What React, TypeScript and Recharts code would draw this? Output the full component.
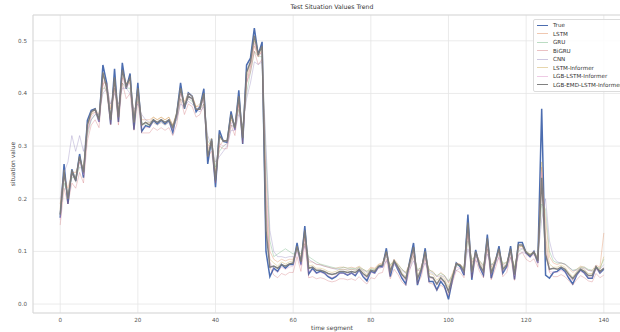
import React from "react";
import {
  LineChart,
  Line,
  XAxis,
  YAxis,
  CartesianGrid,
  Legend,
  Label,
  ReferenceArea,
} from "recharts";

// time segments 0..140
const segments = [
  0, 1, 2, 3, 4, 5, 6, 7, 8, 9, 10, 11, 12, 13, 14, 15, 16, 17, 18, 19,
  20, 21, 22, 23, 24, 25, 26, 27, 28, 29, 30, 31, 32, 33, 34, 35, 36, 37, 38, 39,
  40, 41, 42, 43, 44, 45, 46, 47, 48, 49, 50, 51, 52, 53, 54, 55, 56, 57, 58, 59,
  60, 61, 62, 63, 64, 65, 66, 67, 68, 69, 70, 71, 72, 73, 74, 75, 76, 77, 78, 79,
  80, 81, 82, 83, 84, 85, 86, 87, 88, 89, 90, 91, 92, 93, 94, 95, 96, 97, 98, 99,
  100, 101, 102, 103, 104, 105, 106, 107, 108, 109, 110, 111, 112, 113, 114, 115, 116, 117, 118, 119,
  120, 121, 122, 123, 124, 125, 126, 127, 128, 129, 130, 131, 132, 133, 134, 135, 136, 137, 138, 139,
  140,
];

const trueValues = [
  0.164, 0.266, 0.19, 0.256, 0.234, 0.285, 0.24, 0.349, 0.368, 0.371,
  0.346, 0.454, 0.419, 0.341, 0.447, 0.346, 0.458, 0.409, 0.438, 0.331,
  0.42, 0.328, 0.339, 0.336, 0.349, 0.342, 0.349, 0.342, 0.349, 0.326,
  0.361, 0.42, 0.371, 0.401, 0.395, 0.365, 0.375, 0.409, 0.266, 0.314,
  0.222, 0.33, 0.309, 0.307, 0.366, 0.331, 0.406, 0.304, 0.454, 0.467,
  0.524, 0.473, 0.498, 0.1, 0.052, 0.068, 0.062, 0.075, 0.068, 0.075,
  0.075, 0.116, 0.075, 0.148, 0.057, 0.068, 0.059, 0.062, 0.059, 0.052,
  0.048, 0.052, 0.059, 0.059, 0.055, 0.059, 0.054, 0.065, 0.052, 0.044,
  0.062, 0.059, 0.071, 0.071, 0.106, 0.052, 0.081, 0.065, 0.049, 0.038,
  0.081, 0.116, 0.036, 0.062, 0.106, 0.043, 0.043, 0.027, 0.043, 0.033,
  0.009, 0.046, 0.078, 0.071, 0.055, 0.17, 0.046, 0.103, 0.071, 0.055,
  0.132, 0.049, 0.078, 0.11, 0.059, 0.071, 0.11, 0.047, 0.117, 0.117,
  0.097, 0.09, 0.1, 0.078, 0.371, 0.055, 0.049, 0.06, 0.062, 0.068,
  0.062, 0.049, 0.038, 0.055, 0.065, 0.059, 0.049, 0.049, 0.071, 0.059, 0.066,
];

const lstmValues = [
  0.19, 0.24, 0.22, 0.25, 0.25, 0.27, 0.26, 0.33, 0.36, 0.37,
  0.36, 0.42, 0.42, 0.37, 0.42, 0.37, 0.43, 0.42, 0.42, 0.36,
  0.4, 0.35, 0.35, 0.35, 0.355, 0.35, 0.355, 0.35, 0.355, 0.34,
  0.36, 0.4, 0.385, 0.4, 0.395, 0.375, 0.375, 0.39, 0.3, 0.31,
  0.25, 0.3, 0.31, 0.31, 0.35, 0.34, 0.38, 0.33, 0.42, 0.45,
  0.49, 0.47, 0.48, 0.24, 0.1, 0.085, 0.08, 0.085, 0.082, 0.085,
  0.085, 0.105, 0.09, 0.125, 0.08, 0.08, 0.075, 0.075, 0.072, 0.07,
  0.068, 0.068, 0.07, 0.07, 0.068, 0.07, 0.068, 0.072, 0.066, 0.062,
  0.07, 0.068, 0.076, 0.078, 0.098, 0.072, 0.085, 0.076, 0.066, 0.06,
  0.078, 0.1, 0.062, 0.072, 0.095, 0.064, 0.062, 0.052, 0.06, 0.054,
  0.04, 0.058, 0.078, 0.076, 0.068, 0.14, 0.078, 0.098, 0.082, 0.072,
  0.118, 0.07, 0.085, 0.1, 0.075, 0.08, 0.1, 0.068, 0.108, 0.11,
  0.1, 0.095, 0.1, 0.088, 0.22, 0.16, 0.09, 0.078, 0.075, 0.078,
  0.075, 0.068, 0.06, 0.066, 0.072, 0.07, 0.064, 0.064, 0.074, 0.07, 0.135,
];

const gruValues = [
  0.17, 0.23, 0.21, 0.24, 0.24, 0.26, 0.255, 0.32, 0.35, 0.36,
  0.355, 0.41, 0.41, 0.36, 0.41, 0.36, 0.42, 0.41, 0.41, 0.35,
  0.39, 0.345, 0.34, 0.34, 0.345, 0.34, 0.345, 0.34, 0.345, 0.335,
  0.35, 0.39, 0.38, 0.39, 0.385, 0.37, 0.37, 0.38, 0.31, 0.3,
  0.26, 0.29, 0.3, 0.305, 0.34, 0.335, 0.37, 0.335, 0.4, 0.44,
  0.48, 0.47, 0.47, 0.28, 0.12, 0.09, 0.095, 0.1, 0.105, 0.1,
  0.095, 0.1, 0.095, 0.115, 0.09, 0.085, 0.08, 0.076, 0.074, 0.072,
  0.07, 0.068, 0.068, 0.07, 0.068, 0.068, 0.067, 0.07, 0.066, 0.062,
  0.066, 0.066, 0.072, 0.074, 0.09, 0.075, 0.08, 0.075, 0.066, 0.06,
  0.072, 0.092, 0.066, 0.068, 0.088, 0.066, 0.06, 0.054, 0.058, 0.054,
  0.044, 0.054, 0.072, 0.074, 0.068, 0.12, 0.085, 0.09, 0.082, 0.074,
  0.105, 0.075, 0.08, 0.095, 0.078, 0.078, 0.095, 0.07, 0.1, 0.105,
  0.1, 0.095, 0.098, 0.09, 0.19, 0.18, 0.1, 0.082, 0.078, 0.078,
  0.076, 0.07, 0.064, 0.066, 0.07, 0.07, 0.066, 0.064, 0.07, 0.068, 0.085,
];

const bigruValues = [
  0.15, 0.22, 0.19, 0.23, 0.22, 0.25, 0.23, 0.31, 0.34, 0.35,
  0.335, 0.42, 0.4, 0.34, 0.41, 0.34, 0.42, 0.39, 0.4, 0.33,
  0.385, 0.325, 0.325, 0.325, 0.335, 0.33, 0.335, 0.33, 0.335, 0.32,
  0.34, 0.39, 0.36, 0.38, 0.375, 0.355, 0.36, 0.38, 0.28, 0.29,
  0.23, 0.3, 0.295, 0.295, 0.34, 0.32, 0.38, 0.305, 0.42, 0.44,
  0.48, 0.455, 0.465, 0.19, 0.07, 0.055, 0.05, 0.058, 0.055, 0.06,
  0.06, 0.09, 0.062, 0.115, 0.05, 0.052, 0.048, 0.05, 0.048, 0.044,
  0.042, 0.044, 0.048, 0.048, 0.046, 0.048, 0.045, 0.052, 0.044, 0.038,
  0.05, 0.048, 0.058, 0.06, 0.085, 0.048, 0.066, 0.056, 0.042, 0.035,
  0.064, 0.092, 0.038, 0.052, 0.085, 0.04, 0.038, 0.026, 0.036, 0.03,
  0.016, 0.04, 0.064, 0.06, 0.05, 0.135, 0.05, 0.085, 0.062, 0.05,
  0.105, 0.046, 0.066, 0.09, 0.052, 0.06, 0.09, 0.045, 0.095, 0.098,
  0.085, 0.08, 0.086, 0.07, 0.26, 0.12, 0.06, 0.052, 0.052, 0.056,
  0.052, 0.044, 0.036, 0.046, 0.054, 0.05, 0.044, 0.042, 0.058, 0.05, 0.055,
];

const cnnValues = [
  0.2, 0.25, 0.27, 0.32, 0.29, 0.32, 0.29, 0.33, 0.35, 0.36,
  0.36, 0.4, 0.41, 0.38, 0.4, 0.38, 0.41, 0.41, 0.4, 0.37,
  0.38, 0.36, 0.35, 0.345, 0.35, 0.345, 0.35, 0.345, 0.35, 0.34,
  0.35, 0.38, 0.375, 0.385, 0.38, 0.37, 0.365, 0.375, 0.32, 0.3,
  0.27, 0.28, 0.29, 0.3, 0.33, 0.33, 0.36, 0.34, 0.39, 0.42,
  0.46, 0.455, 0.46, 0.3, 0.14, 0.1, 0.09, 0.09, 0.088, 0.09,
  0.09, 0.098, 0.09, 0.11, 0.085, 0.08, 0.076, 0.074, 0.072, 0.07,
  0.068, 0.066, 0.066, 0.066, 0.065, 0.066, 0.065, 0.067, 0.064, 0.06,
  0.064, 0.064, 0.068, 0.07, 0.082, 0.07, 0.074, 0.07, 0.064, 0.058,
  0.066, 0.082, 0.064, 0.064, 0.078, 0.062, 0.058, 0.052, 0.054, 0.052,
  0.042, 0.05, 0.064, 0.068, 0.064, 0.105, 0.08, 0.082, 0.078, 0.07,
  0.095, 0.074, 0.076, 0.088, 0.074, 0.074, 0.088, 0.068, 0.092, 0.098,
  0.096, 0.092, 0.094, 0.088, 0.16, 0.2, 0.12, 0.09, 0.08, 0.078,
  0.076, 0.07, 0.064, 0.064, 0.068, 0.068, 0.064, 0.062, 0.066, 0.066, 0.075,
];

const lstmInformerValues = [
  0.18, 0.255, 0.2, 0.255, 0.24, 0.28, 0.25, 0.34, 0.36, 0.365,
  0.35, 0.435, 0.41, 0.35, 0.43, 0.355, 0.44, 0.41, 0.425, 0.345,
  0.405, 0.34, 0.345, 0.345, 0.355, 0.35, 0.355, 0.35, 0.355, 0.34,
  0.365, 0.41, 0.38, 0.4, 0.395, 0.375, 0.38, 0.4, 0.29, 0.315,
  0.245, 0.315, 0.31, 0.31, 0.355, 0.335, 0.39, 0.32, 0.43, 0.455,
  0.5, 0.47, 0.485, 0.17, 0.085, 0.078, 0.072, 0.08, 0.076, 0.08,
  0.082, 0.108, 0.082, 0.13, 0.072, 0.074, 0.068, 0.068, 0.066, 0.062,
  0.06, 0.062, 0.066, 0.066, 0.064, 0.066, 0.064, 0.07, 0.062, 0.056,
  0.068, 0.066, 0.075, 0.076, 0.098, 0.066, 0.084, 0.072, 0.06, 0.052,
  0.078, 0.104, 0.054, 0.068, 0.098, 0.058, 0.056, 0.045, 0.054, 0.048,
  0.032, 0.054, 0.076, 0.074, 0.066, 0.15, 0.068, 0.098, 0.078, 0.066,
  0.12, 0.064, 0.08, 0.102, 0.07, 0.076, 0.102, 0.062, 0.108, 0.11,
  0.098, 0.094, 0.098, 0.084, 0.27, 0.13, 0.076, 0.07, 0.07, 0.074,
  0.07, 0.06, 0.052, 0.062, 0.07, 0.066, 0.058, 0.058, 0.072, 0.066, 0.09,
];

const lgbLstmInformerValues = [
  0.16, 0.245, 0.205, 0.245, 0.235, 0.27, 0.245, 0.325, 0.355, 0.365,
  0.345, 0.425, 0.415, 0.355, 0.42, 0.355, 0.43, 0.41, 0.42, 0.35,
  0.4, 0.34, 0.335, 0.335, 0.345, 0.34, 0.345, 0.34, 0.345, 0.33,
  0.355, 0.4, 0.375, 0.39, 0.39, 0.37, 0.37, 0.39, 0.295, 0.305,
  0.245, 0.305, 0.3, 0.305, 0.345, 0.33, 0.385, 0.32, 0.42, 0.45,
  0.495, 0.47, 0.48, 0.21, 0.08, 0.065, 0.06, 0.07, 0.066, 0.07,
  0.072, 0.1, 0.072, 0.125, 0.062, 0.064, 0.058, 0.06, 0.058, 0.054,
  0.05, 0.054, 0.058, 0.058, 0.056, 0.058, 0.056, 0.062, 0.054, 0.048,
  0.06, 0.058, 0.068, 0.07, 0.094, 0.058, 0.078, 0.066, 0.052, 0.044,
  0.072, 0.1, 0.046, 0.06, 0.092, 0.05, 0.048, 0.036, 0.046, 0.04,
  0.024, 0.046, 0.07, 0.068, 0.058, 0.145, 0.06, 0.092, 0.07, 0.058,
  0.115, 0.056, 0.074, 0.098, 0.062, 0.068, 0.098, 0.054, 0.104, 0.106,
  0.094, 0.088, 0.094, 0.078, 0.25, 0.1, 0.062, 0.06, 0.06, 0.064,
  0.06, 0.052, 0.044, 0.054, 0.062, 0.058, 0.05, 0.05, 0.066, 0.058, 0.07,
];

const lgbEmdLstmInformerValues = [
  0.17, 0.25, 0.2, 0.25, 0.235, 0.28, 0.25, 0.34, 0.365, 0.37,
  0.35, 0.44, 0.41, 0.35, 0.43, 0.355, 0.445, 0.415, 0.43, 0.345,
  0.41, 0.34, 0.345, 0.34, 0.35, 0.345, 0.35, 0.345, 0.35, 0.335,
  0.36, 0.41, 0.375, 0.395, 0.39, 0.37, 0.37, 0.4, 0.28, 0.31,
  0.235, 0.32, 0.31, 0.31, 0.36, 0.335, 0.395, 0.315, 0.44, 0.46,
  0.51, 0.475, 0.49, 0.14, 0.07, 0.072, 0.068, 0.075, 0.072, 0.076,
  0.078, 0.11, 0.08, 0.14, 0.068, 0.07, 0.064, 0.064, 0.062, 0.058,
  0.056, 0.058, 0.062, 0.062, 0.06, 0.062, 0.06, 0.066, 0.058, 0.052,
  0.064, 0.062, 0.072, 0.074, 0.1, 0.062, 0.082, 0.07, 0.056, 0.048,
  0.078, 0.108, 0.048, 0.066, 0.1, 0.052, 0.05, 0.038, 0.05, 0.042,
  0.024, 0.05, 0.076, 0.074, 0.062, 0.155, 0.06, 0.1, 0.074, 0.062,
  0.125, 0.058, 0.08, 0.105, 0.066, 0.074, 0.105, 0.056, 0.112, 0.112,
  0.098, 0.092, 0.098, 0.082, 0.24, 0.094, 0.066, 0.068, 0.066, 0.07,
  0.066, 0.056, 0.048, 0.058, 0.066, 0.062, 0.054, 0.054, 0.07, 0.062, 0.068,
];

const xTicks = [0, 20, 40, 60, 80, 100, 120, 140];
const yTicks = [0, 0.1, 0.2, 0.3, 0.4, 0.5];

const data = segments.map((t, i) => ({
  t,
  trueV: trueValues[i],
  lstm: lstmValues[i],
  gru: gruValues[i],
  bigru: bigruValues[i],
  cnn: cnnValues[i],
  lstmInf: lstmInformerValues[i],
  lgbLstm: lgbLstmInformerValues[i],
  lgbEmd: lgbEmdLstmInformerValues[i],
}));

const series = [
  { key: "trueV", name: "True", color: "#4c6db0", width: 1.5, opacity: 1 },
  { key: "lstm", name: "LSTM", color: "#dd8452", width: 0.8, opacity: 0.45 },
  { key: "gru", name: "GRU", color: "#55a868", width: 0.8, opacity: 0.4 },
  { key: "bigru", name: "BiGRU", color: "#c44e52", width: 0.8, opacity: 0.35 },
  { key: "cnn", name: "CNN", color: "#8172b3", width: 0.8, opacity: 0.4 },
  { key: "lstmInf", name: "LSTM-Informer", color: "#c9a44a", width: 0.8, opacity: 0.45 },
  { key: "lgbLstm", name: "LGB-LSTM-Informer", color: "#da8bc3", width: 0.8, opacity: 0.45 },
  { key: "lgbEmd", name: "LGB-EMD-LSTM-Informer", color: "#7a7a7a", width: 1.5, opacity: 0.95 },
];

const FONT = "'DejaVu Sans', sans-serif";

const LegendBox = () => (
  <div
    style={{
      width: 104,
      padding: "1px 0 2px 0",
      background: "rgba(255,255,255,0.85)",
      border: "1px solid #dcdcdc",
      borderRadius: 2,
      fontFamily: FONT,
      fontSize: 5.6,
      color: "#333",
    }}
  >
    {series.map((s) => (
      <div key={s.key} style={{ display: "flex", alignItems: "center", height: 8.5 }}>
        <div
          style={{
            width: 11,
            marginLeft: 3,
            marginRight: 5,
            borderTop: `${s.width}px solid ${s.color}`,
            opacity: s.opacity,
          }}
        />
        <span style={{ whiteSpace: "nowrap" }}>{s.name}</span>
      </div>
    ))}
  </div>
);

export default function App() {
  return (
    <div
      style={{
        position: "absolute",
        left: 0,
        top: 0,
        width: 620,
        height: 332,
        overflow: "hidden",
        background: "#fff",
      }}
    >
      <div
        style={{
          position: "absolute",
          left: 33,
          width: 598,
          top: 3,
          textAlign: "center",
          fontFamily: FONT,
          fontSize: 6.2,
          color: "#333",
        }}
      >
        Test Situation Values Trend
      </div>
      <LineChart
        width={640}
        height={332}
        data={data}
        margin={{ top: 15, right: 9, left: 0, bottom: 0 }}
      >
        <CartesianGrid stroke="#e6e6e6" strokeWidth={0.8} />
        <ReferenceArea
          x1={-7}
          x2={147}
          y1={-0.017}
          y2={0.549}
          fill="none"
          stroke="#d4d4d4"
          strokeWidth={0.8}
        />
        <XAxis
          dataKey="t"
          type="number"
          domain={[-7, 147]}
          ticks={xTicks}
          allowDataOverflow
          height={19}
          axisLine={false}
          tickLine={false}
          tickSize={0}
          tickMargin={5}
          tick={{ fontSize: 5.6, fill: "#555", fontFamily: FONT }}
        >
          <Label
            content={({ viewBox }: any) => (
              <text
                x={332}
                y={viewBox.y + 17}
                textAnchor="middle"
                fontSize={6}
                fill="#444"
                fontFamily={FONT}
              >
                time segment
              </text>
            )}
          />
        </XAxis>
        <YAxis
          type="number"
          domain={[-0.017, 0.549]}
          ticks={yTicks}
          allowDataOverflow
          width={33}
          axisLine={false}
          tickLine={false}
          tickSize={0}
          tickMargin={6}
          tickFormatter={(v: number) => v.toFixed(1)}
          tick={{ fontSize: 5.6, fill: "#555", fontFamily: FONT }}
        >
          <Label
            content={({ viewBox }: any) => {
              const cy = viewBox.y + viewBox.height / 2;
              return (
                <text
                  x={15}
                  y={cy}
                  transform={`rotate(-90, 15, ${cy})`}
                  textAnchor="middle"
                  fontSize={6}
                  fill="#444"
                  fontFamily={FONT}
                >
                  situation value
                </text>
              );
            }}
          />
        </YAxis>
        <Legend
          layout="vertical"
          align="center"
          verticalAlign="middle"
          wrapperStyle={{ left: 533, top: 19, width: 110 }}
          content={() => <LegendBox />}
        />
        {series.map((s) => (
          <Line
            key={s.key}
            type="linear"
            dataKey={s.key}
            name={s.name}
            stroke={s.color}
            strokeWidth={s.width}
            strokeOpacity={s.opacity}
            dot={false}
            activeDot={false}
            isAnimationActive={false}
          />
        ))}
      </LineChart>
    </div>
  );
}
